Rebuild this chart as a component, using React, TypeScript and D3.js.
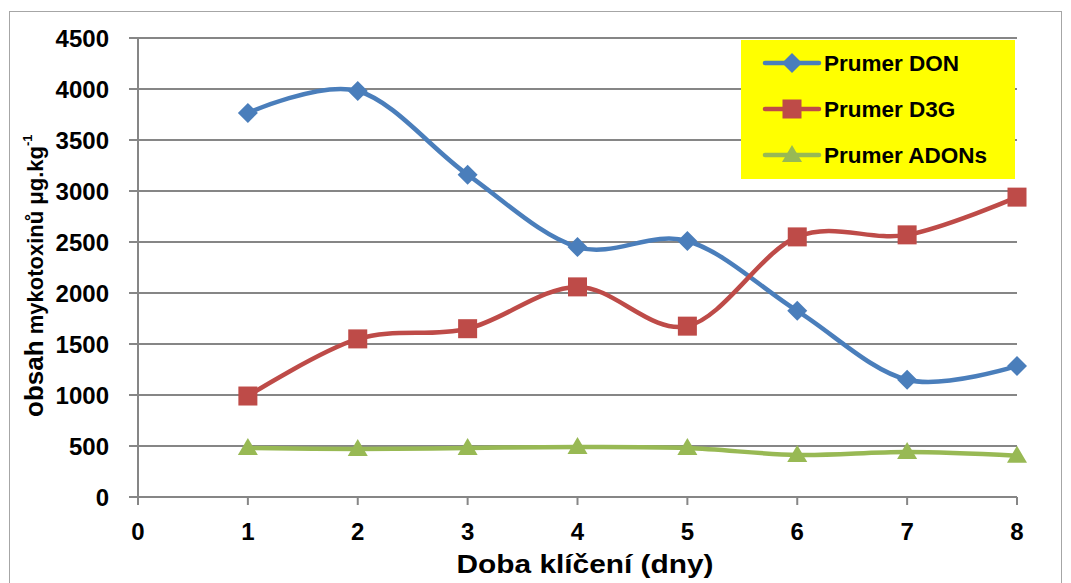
import React from "react";
import * as d3 from "d3";

const days = [1, 2, 3, 4, 5, 6, 7, 8];
const donValues = [3765, 3980, 3160, 2450, 2510, 1825, 1150, 1285];
const d3gValues = [990, 1550, 1650, 2060, 1675, 2550, 2570, 2940];
const adonValues = [480, 470, 480, 490, 480, 412, 441, 405];
const yTicks = [0, 500, 1000, 1500, 2000, 2500, 3000, 3500, 4000, 4500];
const xTicks = [0, 1, 2, 3, 4, 5, 6, 7, 8];
const seriesNames = ["Prumer DON", "Prumer D3G", "Prumer ADONs"];

const W = 1071;
const H = 583;
const left = 138;
const right = 1017;
const top = 38;
const bottom = 497;

const FONT = "'Liberation Sans', Arial, sans-serif";
const colors = ["#4a7ebb", "#be4b48", "#98b954"];

function Marker({ kind, x, y, color }: { kind: number; x: number; y: number; color: string }) {
  if (kind === 0) {
    const s = 10;
    return <path d={`M${x},${y - s}L${x + s},${y}L${x},${y + s}L${x - s},${y}Z`} fill={color} />;
  }
  if (kind === 1) {
    const s = 9.5;
    return <rect x={x - s} y={y - s} width={2 * s} height={2 * s} fill={color} />;
  }
  const s = 10;
  return <path d={`M${x},${y - s}L${x + s},${y + 7}L${x - s},${y + 7}Z`} fill={color} />;
}

export default function App() {
  const x = d3.scaleLinear().domain([0, 8]).range([left, right]);
  const y = d3.scaleLinear().domain([0, 4500]).range([bottom, top]);
  const series = [donValues, d3gValues, adonValues];
  const line = d3
    .line<number>()
    .x((_, i) => x(days[i]))
    .y((v) => y(v))
    .curve(d3.curveCardinal.tension(0));

  const legendY = [63, 109, 155];

  return (
    <svg
      width={W}
      height={H}
      style={{ position: "absolute", left: 0, top: 0, background: "#fff" }}
      fontFamily={FONT}
    >
      <rect x={0} y={0} width={W} height={H} fill="#fff" />
      <rect x={9.5} y={11.5} width={1052} height={600} fill="#fff" stroke="#a6a6a6" strokeWidth={1} />

      {yTicks.map((t) => (
        <g key={"y" + t}>
          <line x1={left - 9} x2={right} y1={y(t)} y2={y(t)} stroke="#868686" strokeWidth={2} />
          <text
            x={109}
            y={y(t)}
            dy="0.36em"
            textAnchor="end"
            fontSize={24}
            fontWeight="bold"
            fill="#000"
          >
            {t}
          </text>
        </g>
      ))}
      <line x1={left} x2={left} y1={top} y2={bottom + 8} stroke="#868686" strokeWidth={2} />
      {xTicks.map((t) => (
        <g key={"x" + t}>
          <line x1={x(t)} x2={x(t)} y1={bottom} y2={bottom + 8} stroke="#868686" strokeWidth={2} />
          <text x={x(t)} y={540} textAnchor="middle" fontSize={24} fontWeight="bold" fill="#000">
            {t}
          </text>
        </g>
      ))}

      <text
        x={585}
        y={573}
        textAnchor="middle"
        fontSize={25}
        fontWeight="bold"
        fill="#000"
        textLength={257}
        lengthAdjust="spacingAndGlyphs"
      >
        Doba klíčení (dny)
      </text>

      <text transform="translate(43,417) rotate(-90)" textAnchor="start" fontWeight="bold" fill="#000">
        <tspan fontSize={26}>obsah</tspan>
        <tspan fontSize={22}> mykotoxinů μg.kg</tspan>
        <tspan fontSize={13} dy={-11}>-1</tspan>
      </text>

      {series.map((vals, si) => (
        <g key={"s" + si}>
          <path d={line(vals) || ""} fill="none" stroke={colors[si]} strokeWidth={4.5} strokeLinejoin="round" />
          {vals.map((v, i) => (
            <Marker key={i} kind={si} x={x(days[i])} y={y(v)} color={colors[si]} />
          ))}
        </g>
      ))}

      <rect x={741} y={40} width={274} height={139} fill="#ffff00" />
      {seriesNames.map((name, si) => (
        <g key={"l" + si}>
          <line x1={765} x2={819} y1={legendY[si]} y2={legendY[si]} stroke={colors[si]} strokeWidth={4.5} strokeLinecap="round" />
          <Marker kind={si} x={792} y={legendY[si]} color={colors[si]} />
          <text x={824} y={legendY[si] + 8} fontSize={22.5} fontWeight="bold" fill="#000">
            {name}
          </text>
        </g>
      ))}
    </svg>
  );
}
